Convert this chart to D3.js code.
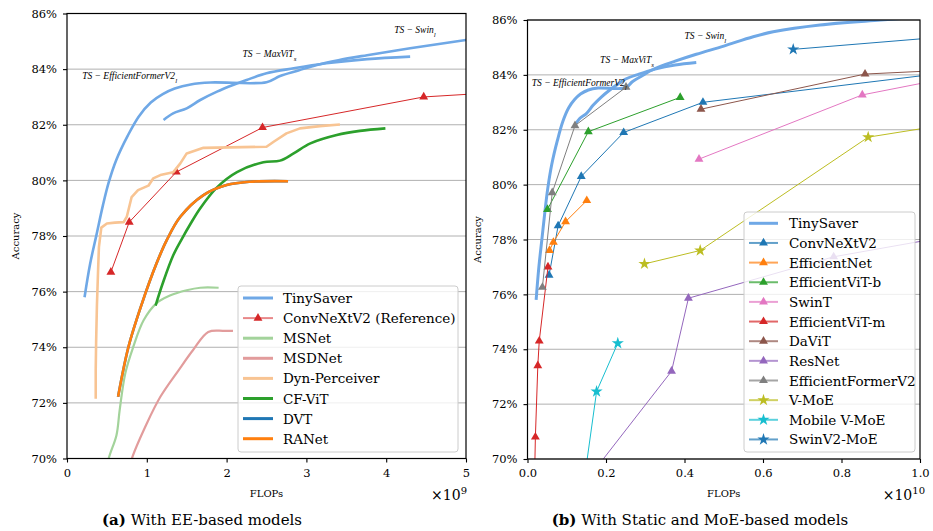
<!DOCTYPE html>
<html>
<head>
<meta charset="utf-8">
<script src="https://cdn.jsdelivr.net/npm/d3@7"></script>
<style>
  body { margin: 0; background: #fff; }
  svg text { font-family: "DejaVu Serif", serif; fill: #000; }
</style>
</head>
<body>
<svg id="chart" width="933" height="531"></svg>
<script>
// ---- data (x in GFLOPs, y in % top-1 accuracy) ----
const yTicks = [70, 72, 74, 76, 78, 80, 82, 84, 86];
const leftXTicks = [0, 1, 2, 3, 4, 5];
const rightXTicks = [0, 2, 4, 6, 8, 10];   // labelled as x10^10

// TinySaver: EfficientFormerV2_l -> Swin_l chain, and MaxViT_s chain
const tsEffFormerSwin = [[0.22,75.8],[0.29,77.0],[0.37,78.05],[0.45,79.1],[0.52,79.9],[0.62,80.75],[0.76,81.6],
  [0.9,82.3],[1.05,82.8],[1.2,83.1],[1.35,83.3],[1.55,83.45],[1.8,83.52],[2.5,83.53],[2.67,83.75],[2.9,83.95],
  [3.13,84.15],[3.4,84.32],[3.76,84.5],[4.3,84.75],[5.0,85.05],[5.75,85.39],[6.26,85.57],[7.45,85.82],[9.0,86.0],[10.5,86.15]];
const tsMaxViT = [[1.21,82.17],[1.33,82.41],[1.5,82.59],[1.67,82.89],[1.88,83.19],[2.08,83.43],[2.25,83.61],
  [2.5,83.85],[2.84,84.03],[3.25,84.21],[3.76,84.36],[4.3,84.45]];

const convNeXtV2 = [[0.55,76.7],[0.78,78.5],[1.37,80.3],[2.45,81.9],[4.47,83.0],[15.4,84.9]];

// early-exit models (left panel)
const msNet = [[0.48,69.2],[0.52,69.97],[0.62,70.84],[0.66,71.74],[0.73,73.06],[0.83,74.01],[0.96,74.97],
  [1.12,75.58],[1.29,75.86],[1.5,76.05],[1.67,76.14],[1.9,76.14]];
const msdNet = [[0.78,69.5],[0.81,69.97],[1.0,71.26],[1.17,72.22],[1.4,73.18],[1.58,73.9],[1.77,74.55],[1.96,74.59],[2.08,74.59]];
const dynPerceiver = [[0.36,72.15],[0.36,73.2],[0.365,74.2],[0.375,75.5],[0.39,76.8],[0.40,77.6],[0.43,78.3],
  [0.5,78.45],[0.6,78.48],[0.71,78.5],[0.75,78.7],[0.81,79.4],[0.89,79.65],[1.02,79.81],[1.08,80.07],[1.17,80.19],
  [1.33,80.29],[1.42,80.61],[1.5,80.97],[1.71,81.17],[2.5,81.21],[2.59,81.39],[2.75,81.69],[2.92,81.87],[3.17,81.95],[3.42,82.01]];
const cfViT = [[1.11,75.5],[1.2,76.3],[1.33,77.3],[1.44,77.9],[1.55,78.45],[1.67,79.0],[1.88,79.75],[2.13,80.3],
  [2.46,80.65],[2.67,80.71],[2.84,80.97],[3.05,81.33],[3.38,81.63],[3.67,81.78],[3.99,81.87]];
const dvt = [[0.64,72.22],[0.77,74.01],[0.94,75.58],[1.12,77.0],[1.25,77.85],[1.42,78.69],[1.71,79.47],[2.0,79.83],[2.29,79.95],[2.77,79.97]];
const raNet = [[0.64,72.22],[0.77,74.01],[0.94,75.58],[1.12,77.0],[1.25,77.85],[1.42,78.69],[1.71,79.47],[2.0,79.83],[2.29,79.95],[2.77,79.97]];

// static and MoE models (right panel)
const efficientNet = [[0.56,77.6],[0.66,77.9],[0.97,78.65],[1.51,79.42]];
const efficientViTb = [[0.51,79.1],[1.55,81.93],[3.89,83.18]];
const swinT = [[4.37,80.93],[8.53,83.27],[15.4,85.2]];
const efficientViTm = [[0.079,63.2],[0.167,68.4],[0.201,70.8],[0.263,73.4],[0.299,74.3],[0.522,77.0]];
const daViT = [[4.42,82.75],[8.6,84.03],[15.5,84.5]];
const resNet = [[1.8,69.76],[3.67,73.2],[4.1,75.86],[7.8,77.37],[11.5,78.31]];
const efficientFormerV2 = [[0.38,76.26],[0.63,79.71],[1.21,82.15],[2.51,83.55]];
const vMoE = [[2.98,77.11],[4.4,77.6],[8.68,81.73],[16,83.4]];
const mobileVMoE = [[1.2,66.7],[1.76,72.46],[2.3,74.22]];
const swinV2MoE = [[6.77,84.93],[15,85.9]];

const svg = d3.select('#chart');
let clipCount = 0;

function markerPath(type) {
  if (type === 'star') return d3.symbol(d3.symbolStar, 46)();
  return d3.symbol(d3.symbolTriangle, 34)();
}

function drawPanel(cfg) {
  const x = d3.scaleLinear().domain([0, cfg.xMax]).range([cfg.x0, cfg.x1]);
  const y = d3.scaleLinear().domain([70, 86]).range([cfg.y1, cfg.y0]);
  const g = svg.append('g');

  const clipId = 'clip' + (clipCount++);
  g.append('clipPath').attr('id', clipId).append('rect')
    .attr('x', cfg.x0).attr('y', cfg.y0).attr('width', cfg.x1 - cfg.x0).attr('height', cfg.y1 - cfg.y0);

  // horizontal grid
  g.append('g').selectAll('line').data(yTicks).join('line')
    .attr('x1', cfg.x0).attr('x2', cfg.x1)
    .attr('y1', d => y(d)).attr('y2', d => y(d))
    .attr('stroke', '#b0b0b0').attr('stroke-width', 1);

  // series
  const plot = g.append('g').attr('clip-path', `url(#${clipId})`);
  cfg.series.forEach(s => {
    const line = d3.line().x(d => x(d[0])).y(d => y(d[1]))
      .curve(s.smooth ? d3.curveCatmullRom.alpha(0.5) : d3.curveLinear);
    s.lines.forEach(pts => {
      plot.append('path').datum(pts).attr('d', line)
        .attr('fill', 'none').attr('stroke', s.color).attr('stroke-width', s.width)
        .attr('stroke-opacity', s.lineOpacity ?? 1).attr('stroke-linejoin', 'round');
      if (s.marker) {
        plot.append('g').selectAll('path').data(pts).join('path')
          .attr('transform', d => `translate(${x(d[0])},${y(d[1])})`)
          .attr('d', markerPath(s.marker)).attr('fill', s.color);
      }
    });
  });

  // annotations
  cfg.notes.forEach(n => {
    const t = g.append('text').attr('x', x(n.at[0])).attr('y', y(n.at[1]))
      .style('font-family', '"Liberation Serif", serif').style('font-style', 'italic').style('font-size', '9.5px');
    t.append('tspan').text(n.text);
    t.append('tspan').attr('baseline-shift', 'sub').style('font-size', '7px').text(n.sub);
  });

  // axes
  const yAxis = d3.axisLeft(y).tickValues(yTicks).tickFormat(d => d + '%').tickSize(4).tickPadding(6);
  const xAxis = d3.axisBottom(x).tickValues(cfg.xTicks).tickFormat(cfg.xFmt).tickSize(4).tickPadding(6);
  const ya = g.append('g').attr('transform', `translate(${cfg.x0},0)`).call(yAxis);
  const xa = g.append('g').attr('transform', `translate(0,${cfg.y1})`).call(xAxis);
  [ya, xa].forEach(a => {
    a.attr('font-family', null).attr('font-size', null);
    a.select('.domain').remove();
    a.selectAll('line').attr('stroke', '#000').attr('stroke-width', 1.1);
    a.selectAll('text').style('font-family', '"DejaVu Serif", serif').style('font-size', '11.5px');
  });

  g.append('rect').attr('x', cfg.x0).attr('y', cfg.y0)
    .attr('width', cfg.x1 - cfg.x0).attr('height', cfg.y1 - cfg.y0)
    .attr('fill', 'none').attr('stroke', '#000').attr('stroke-width', 1.2);

  // axis titles
  g.append('text').attr('transform', `translate(${cfg.yLabelX},${(cfg.y0 + cfg.y1) / 2}) rotate(-90)`)
    .attr('text-anchor', 'middle').attr('dominant-baseline', 'central').style('font-size', '10px').text('Accuracy');
  g.append('text').attr('x', (cfg.x0 + cfg.x1) / 2).attr('y', 497)
    .attr('text-anchor', 'middle').style('font-size', '10px').text('FLOPs');
  const ex = g.append('text').attr('x', cfg.x1 + cfg.expoShift).attr('y', 500)
    .attr('text-anchor', 'end').style('font-size', '14px');
  ex.append('tspan').text('\u00d710');
  ex.append('tspan').attr('dy', -6).style('font-size', '10px').text(cfg.expo);

  // legend
  const L = cfg.legend;
  const lg = g.append('g');
  lg.append('rect').attr('x', L.x).attr('y', L.y).attr('width', L.w).attr('height', L.h)
    .attr('rx', 3).attr('fill', '#fff').attr('fill-opacity', 0.8)
    .attr('stroke', '#cccccc').attr('stroke-width', 1);
  cfg.series.forEach((s, i) => {
    const cy = L.rowY + i * L.step;
    lg.append('line').attr('x1', L.hx0).attr('x2', L.hx1).attr('y1', cy).attr('y2', cy)
      .attr('stroke', s.color).attr('stroke-width', s.legendWidth ?? 2)
      .attr('stroke-opacity', s.legendOpacity ?? 1);
    if (s.marker) {
      lg.append('path').attr('transform', `translate(${(L.hx0 + L.hx1) / 2},${cy})`)
        .attr('d', markerPath(s.marker)).attr('fill', s.color);
    }
    lg.append('text').attr('x', L.tx).attr('y', cy).attr('dominant-baseline', 'central')
      .style('font-size', '13.5px').text(s.name);
  });
}

const tsBlue = '#6fa8e6';

drawPanel({
  x0: 67, x1: 466, y0: 13.5, y1: 458.5, xMax: 5,
  xTicks: leftXTicks, xFmt: d3.format('d'), expo: '9', expoShift: 1, yLabelX: 15,
  series: [
    { name: 'TinySaver', lines: [tsEffFormerSwin, tsMaxViT], color: tsBlue, width: 2.6, smooth: true, legendWidth: 3 },
    { name: 'ConvNeXtV2 (Reference)', lines: [convNeXtV2], color: '#d62728', width: 1, marker: 'tri', legendWidth: 2, legendOpacity: 0.55 },
    { name: 'MSNet', lines: [msNet], color: '#a3d39b', width: 2.2, smooth: true, legendWidth: 3 },
    { name: 'MSDNet', lines: [msdNet], color: '#e29c9c', width: 2.2, smooth: true, legendWidth: 3 },
    { name: 'Dyn-Perceiver', lines: [dynPerceiver], color: '#f8c493', width: 2.6, legendWidth: 3 },
    { name: 'CF-ViT', lines: [cfViT], color: '#2ca02c', width: 2.6, smooth: true, legendWidth: 3 },
    { name: 'DVT', lines: [dvt], color: '#1f77b4', width: 2.6, smooth: true, legendWidth: 3 },
    { name: 'RANet', lines: [raNet], color: '#ff7f0e', width: 2.6, smooth: true, legendWidth: 3 }
  ],
  notes: [
    { text: 'TS \u2212 EfficientFormerV2', sub: 'l', at: [0.19, 83.65] },
    { text: 'TS \u2212 MaxViT', sub: 's', at: [2.2, 84.45] },
    { text: 'TS \u2212 Swin', sub: 'l', at: [4.1, 85.3] }
  ],
  legend: { x: 238, y: 286, w: 220, h: 166, hx0: 243, hx1: 273, tx: 283, rowY: 298, step: 20.1 }
});

drawPanel({
  x0: 527.5, x1: 920, y0: 20, y1: 459, xMax: 10,
  xTicks: rightXTicks, xFmt: d => d3.format('.1f')(d / 10), expo: '10', expoShift: 5, yLabelX: 477,
  series: [
    { name: 'TinySaver', lines: [tsEffFormerSwin, tsMaxViT], color: tsBlue, width: 3, smooth: true, legendWidth: 3 },
    { name: 'ConvNeXtV2', lines: [convNeXtV2], color: '#1f77b4', width: 1, marker: 'tri', legendOpacity: 0.7 },
    { name: 'EfficientNet', lines: [efficientNet], color: '#ff7f0e', width: 1, marker: 'tri', legendOpacity: 0.7 },
    { name: 'EfficientViT-b', lines: [efficientViTb], color: '#2ca02c', width: 1, marker: 'tri', legendOpacity: 0.7 },
    { name: 'SwinT', lines: [swinT], color: '#e377c2', width: 1, marker: 'tri', legendOpacity: 0.7 },
    { name: 'EfficientViT-m', lines: [efficientViTm], color: '#d62728', width: 1, marker: 'tri', legendOpacity: 0.7 },
    { name: 'DaViT', lines: [daViT], color: '#8c564b', width: 1, marker: 'tri', legendOpacity: 0.7 },
    { name: 'ResNet', lines: [resNet], color: '#9467bd', width: 1, marker: 'tri', legendOpacity: 0.7 },
    { name: 'EfficientFormerV2', lines: [efficientFormerV2], color: '#7f7f7f', width: 1, marker: 'tri', legendOpacity: 0.7 },
    { name: 'V-MoE', lines: [vMoE], color: '#bcbd22', width: 1, marker: 'star', legendOpacity: 0.7 },
    { name: 'Mobile V-MoE', lines: [mobileVMoE], color: '#17becf', width: 1, marker: 'star', legendOpacity: 0.7 },
    { name: 'SwinV2-MoE', lines: [swinV2MoE], color: '#1f77b4', width: 1, marker: 'star', legendOpacity: 0.7 }
  ],
  notes: [
    { text: 'TS \u2212 EfficientFormerV2', sub: 'l', at: [0.11, 83.6] },
    { text: 'TS \u2212 MaxViT', sub: 's', at: [1.85, 84.45] },
    { text: 'TS \u2212 Swin', sub: 'l', at: [4.0, 85.3] }
  ],
  legend: { x: 744, y: 212, w: 171, h: 240, hx0: 749, hx1: 778, tx: 789, rowY: 223.3, step: 19.65 }
});

// captions
function caption(cx, tag, rest) {
  const t = svg.append('text').attr('x', cx).attr('y', 525).attr('text-anchor', 'middle').style('font-size', '15px');
  t.append('tspan').style('font-weight', 'bold').text(tag);
  t.append('tspan').text(' ' + rest);
}
caption(202, '(a)', 'With EE-based models');
caption(700, '(b)', 'With Static and MoE-based models');
</script>
</body>
</html>
